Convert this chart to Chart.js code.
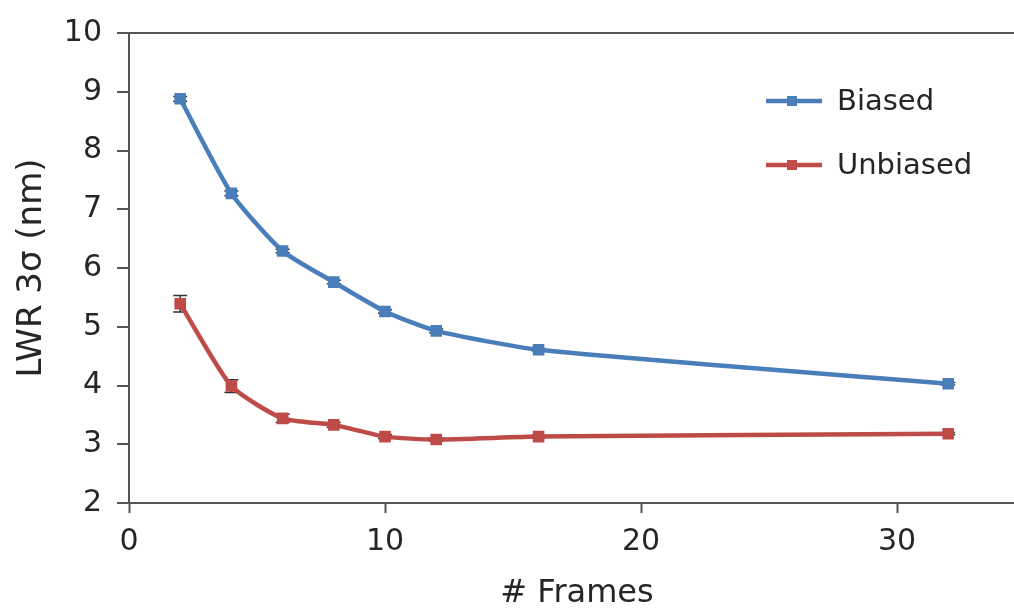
<!DOCTYPE html>
<html>
<head>
<meta charset="utf-8">
<script src="https://cdn.jsdelivr.net/npm/chart.js@4.4.0/dist/chart.umd.min.js"></script>
<style>
  html, body { margin: 0; padding: 0; background: #fff; overflow: hidden; }
  #wrap { position: relative; width: 1040px; height: 613px; }
</style>
</head>
<body>
<div id="wrap"><canvas id="myChart" width="1040" height="613"></canvas></div>
<script>
// datos
const frames = [2, 4, 6, 8, 10, 12, 16, 32];
const biased = [8.88, 7.27, 6.29, 5.76, 5.26, 4.93, 4.61, 4.03];
const unbiased = [5.39, 3.99, 3.44, 3.33, 3.13, 3.08, 3.13, 3.18];
const biasedErr = [0.04, 0.04, 0.03, 0.03, 0.03, 0.03, 0.02, 0.02];
const unbiasedErr = [0.14, 0.11, 0.07, 0.04, 0.03, 0.03, 0.02, 0.02];
const seriesNames = ['Biased', 'Unbiased'];
const xTicks = [0, 10, 20, 30];

const azul = '#4a7ebb';
const rojo = '#be4b48';
const ejeColor = '#555555';
const texto = '#262626';
const fuente = "'DejaVu Sans', sans-serif";

function puntos(ys) {
    return frames.map((f, i) => ({ x: f, y: ys[i] }));
}

// barras de error (debajo de los marcadores)
const errorBars = {
    id: 'errorBars',
    beforeDatasetsDraw(chart) {
        const { ctx, scales } = chart;
        const errs = [biasedErr, unbiasedErr];
        ctx.save();
        ctx.strokeStyle = '#333';
        ctx.lineWidth = 1.5;
        chart.data.datasets.forEach((ds, d) => {
            ds.data.forEach((p, i) => {
                const px = scales.x.getPixelForValue(p.x);
                const top = scales.y.getPixelForValue(p.y + errs[d][i]);
                const bot = scales.y.getPixelForValue(p.y - errs[d][i]);
                ctx.beginPath();
                ctx.moveTo(px, top); ctx.lineTo(px, bot);
                ctx.moveTo(px - 7, top); ctx.lineTo(px + 7, top);
                ctx.moveTo(px - 7, bot); ctx.lineTo(px + 7, bot);
                ctx.stroke();
            });
        });
        ctx.restore();
    }
};

// leyenda dentro del area
const leyenda = {
    id: 'leyenda',
    afterDraw(chart) {
        const { ctx } = chart;
        const colores = [azul, rojo];
        const filas = [101, 165];
        ctx.save();
        seriesNames.forEach((n, i) => {
            const y = filas[i];
            ctx.strokeStyle = colores[i];
            ctx.lineWidth = 4.5;
            ctx.beginPath();
            ctx.moveTo(766, y); ctx.lineTo(822, y);
            ctx.stroke();
            ctx.fillStyle = colores[i];
            ctx.fillRect(787, y - 5, 10, 10);
            ctx.fillStyle = texto;
            ctx.font = `29px ${fuente}`;
            ctx.textBaseline = 'middle';
            ctx.textAlign = 'left';
            ctx.fillText(n, 837, y + 1);
        });
        ctx.restore();
    }
};

const ctx = document.getElementById('myChart').getContext('2d');
const myChart = new Chart(ctx, {
    type: 'line',
    data: {
        datasets: [
            {
                label: seriesNames[0],
                data: puntos(biased),
                borderColor: azul,
                backgroundColor: azul,
                borderWidth: 4.5,
                pointStyle: 'rect',
                pointRadius: 5,
                tension: 0.2
            },
            {
                label: seriesNames[1],
                data: puntos(unbiased),
                borderColor: rojo,
                backgroundColor: rojo,
                borderWidth: 4.5,
                pointStyle: 'rect',
                pointRadius: 5,
                tension: 0.2
            }
        ]
    },
    options: {
        responsive: false,
        animation: false,
        layout: { padding: { top: 23, right: 15, left: 0, bottom: 0 } },
        plugins: {
            legend: { display: false },
            tooltip: { enabled: false }
        },
        scales: {
            x: {
                type: 'linear',
                min: 0,
                max: 35,
                afterBuildTicks: (s) => { s.ticks = xTicks.map(v => ({ value: v })); },
                afterFit: (s) => { s.height = 110; },
                border: { display: true, color: ejeColor, width: 2 },
                grid: { drawOnChartArea: false, tickColor: ejeColor, tickLength: 10, tickWidth: 2 },
                ticks: { color: texto, font: { family: fuente, size: 30 }, padding: 11 },
                title: {
                    display: true,
                    text: '# Frames',
                    color: texto,
                    font: { family: fuente, size: 32 },
                    padding: { top: 0, bottom: 0 }
                }
            },
            y: {
                min: 2,
                max: 10,
                afterFit: (s) => { s.width = 129; },
                border: { display: true, color: ejeColor, width: 2 },
                grid: {
                    color: (c) => (c.tick && c.tick.value === 10 ? ejeColor : 'transparent'),
                    lineWidth: 2,
                    tickColor: ejeColor,
                    tickLength: 12,
                    tickWidth: 2
                },
                ticks: { stepSize: 1, color: texto, font: { family: fuente, size: 30 }, padding: 15 },
                title: {
                    display: true,
                    text: 'LWR 3σ (nm)',
                    color: texto,
                    font: { family: fuente, size: 34 },
                    padding: { top: 12, bottom: 0 }
                }
            }
        }
    },
    plugins: [errorBars, leyenda]
});
</script>
</body>
</html>
